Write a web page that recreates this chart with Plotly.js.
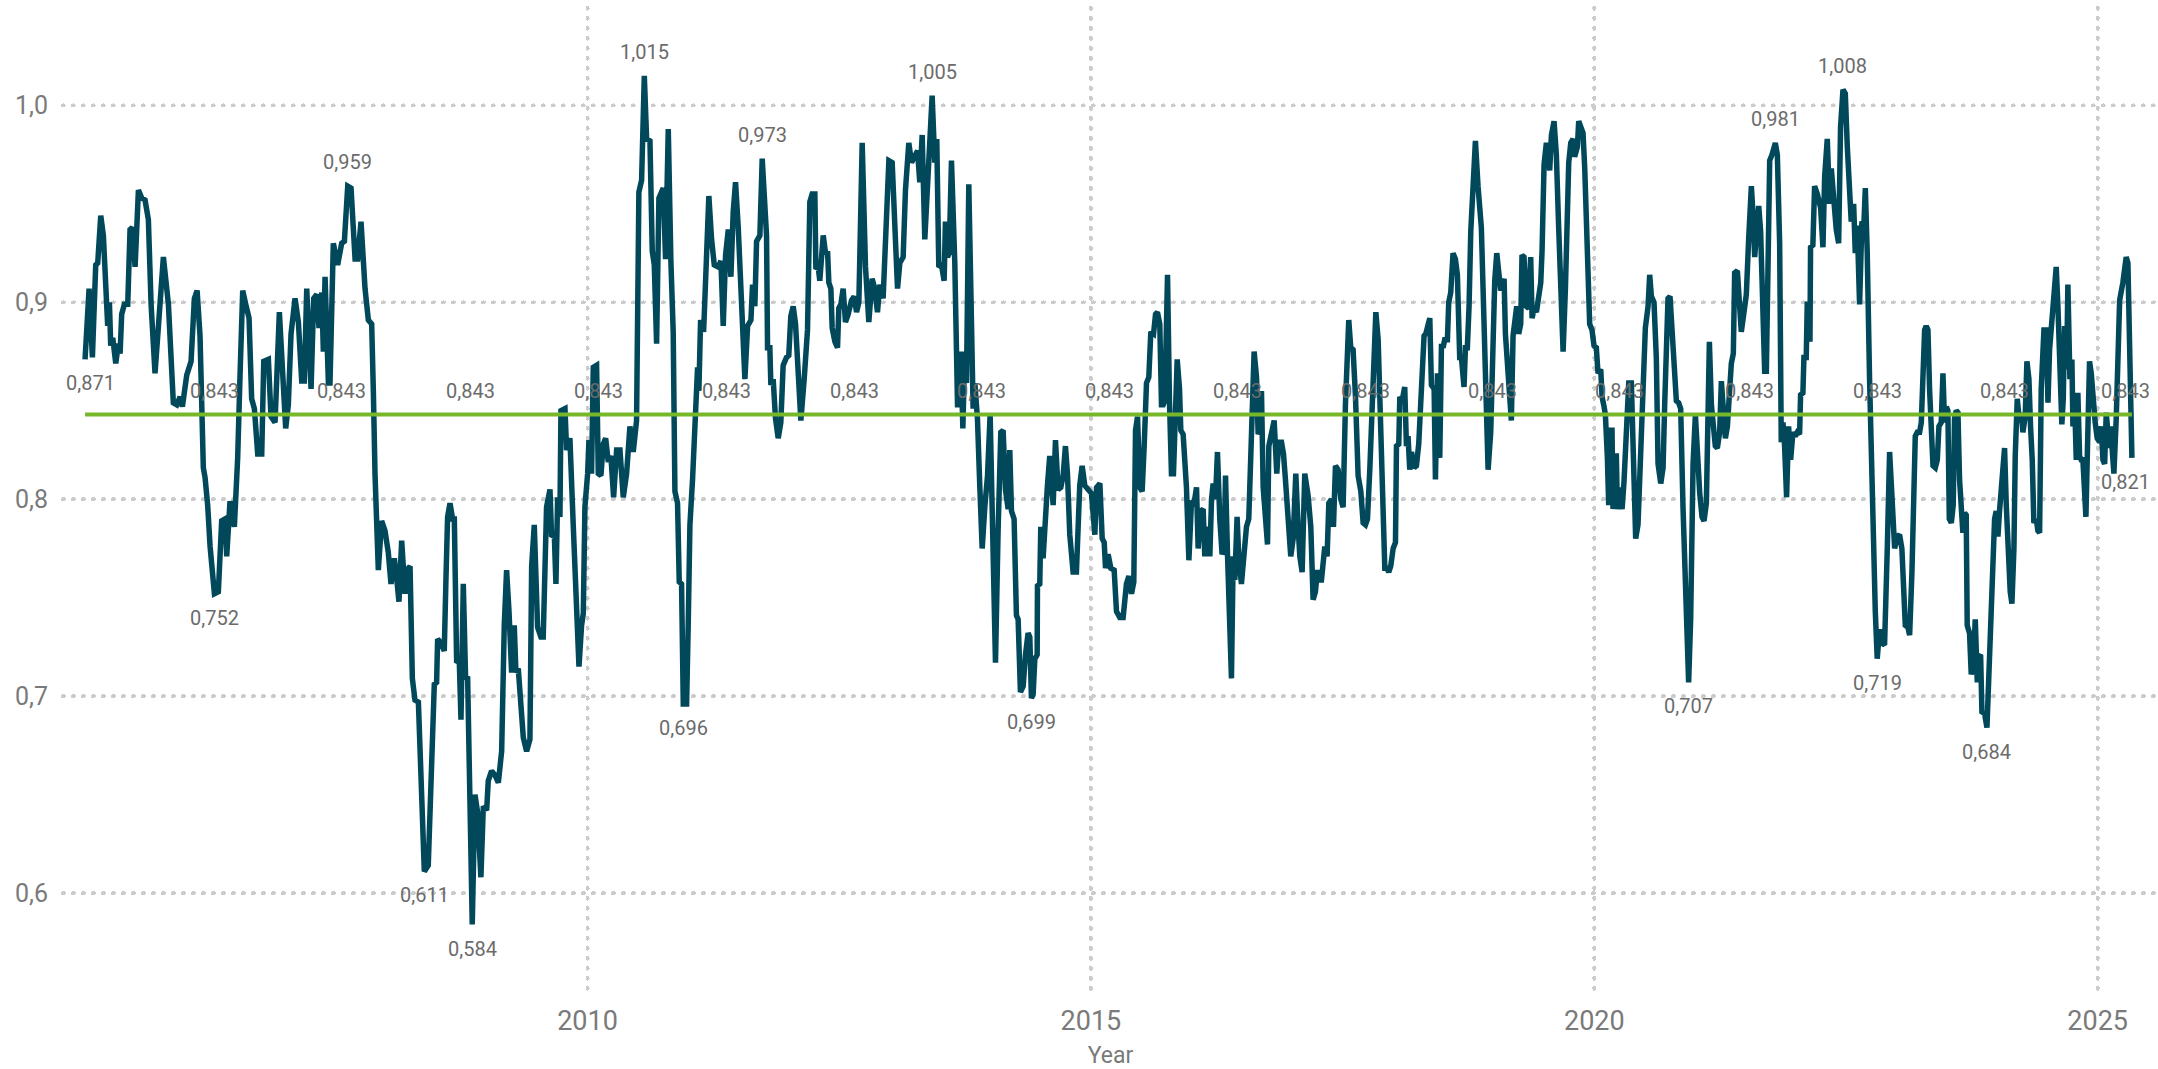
<!DOCTYPE html>
<html>
<head>
<meta charset="utf-8">
<script src="https://cdn.plot.ly/plotly-3.0.1.min.js"></script>
<style>
html,body{margin:0;padding:0;background:#ffffff;}
#chart{width:2158px;height:1069px;}
.gridlayer path{stroke-linecap:round !important;}
</style>
</head>
<body>
<div id="chart"></div>
<script>
// [decimal year, value]
const seg2005 = [[2005.009,0.871],[2005.049,0.907],[2005.082,0.872],[2005.115,0.919],[2005.135,0.920],[2005.165,0.944],[2005.191,0.934],[2005.224,0.907],[2005.234,0.888],[2005.251,0.900],[2005.264,0.878],[2005.284,0.882],[2005.314,0.869],[2005.340,0.879],[2005.357,0.874],[2005.373,0.894],[2005.400,0.899],[2005.433,0.899],[2005.456,0.937],[2005.479,0.938],[2005.506,0.918],[2005.539,0.957],[2005.572,0.953],[2005.605,0.952],[2005.638,0.942],[2005.665,0.899],[2005.704,0.864],[2005.738,0.888],[2005.787,0.923],[2005.837,0.899],[2005.863,0.875],[2005.886,0.849],[2005.920,0.848],[2005.953,0.852],[2005.976,0.847],[2006.019,0.863],[2006.062,0.870],[2006.095,0.902],[2006.122,0.906],[2006.151,0.883],[2006.184,0.816],[2006.201,0.811],[2006.227,0.797],[2006.251,0.776],[2006.294,0.752],[2006.333,0.753],[2006.366,0.789],[2006.400,0.790],[2006.416,0.771],[2006.449,0.799],[2006.492,0.786],[2006.525,0.821],[2006.549,0.864],[2006.575,0.906],[2006.605,0.899],[2006.638,0.892],[2006.664,0.851],[2006.691,0.846],[2006.724,0.823],[2006.764,0.823],[2006.784,0.870],[2006.830,0.871],[2006.856,0.842],[2006.896,0.839],[2006.939,0.895],[2006.969,0.870],[2007.002,0.836],[2007.028,0.848],[2007.055,0.884],[2007.095,0.902],[2007.128,0.890],[2007.161,0.860],[2007.187,0.860],[2007.211,0.907],[2007.254,0.856],[2007.280,0.902],[2007.310,0.904],[2007.333,0.887],[2007.360,0.905],[2007.376,0.875],[2007.393,0.913],[2007.426,0.859],[2007.442,0.859],[2007.475,0.930],[2007.518,0.919],[2007.558,0.930],[2007.585,0.931],[2007.618,0.959],[2007.651,0.958],[2007.691,0.922],[2007.717,0.922],[2007.750,0.941],[2007.790,0.907],[2007.823,0.891],[2007.856,0.889],[2007.873,0.854],[2007.889,0.813],[2007.922,0.764],[2007.955,0.789],[2007.988,0.784],[2008.021,0.773],[2008.048,0.757],[2008.081,0.770],[2008.104,0.760],[2008.127,0.748],[2008.154,0.779],[2008.187,0.752],[2008.220,0.765],[2008.237,0.766],[2008.260,0.709],[2008.286,0.698],[2008.320,0.697]];

const seg2008 = [[2008.379,0.611],[2008.418,0.614],[2008.451,0.662],[2008.478,0.706],[2008.501,0.707],[2008.511,0.729],[2008.544,0.727],[2008.577,0.723],[2008.594,0.760],[2008.610,0.791],[2008.634,0.798],[2008.660,0.790],[2008.677,0.790],[2008.700,0.717],[2008.726,0.718],[2008.743,0.688],[2008.766,0.757],[2008.789,0.709],[2008.809,0.710],[2008.832,0.638],[2008.855,0.584],[2008.882,0.650],[2008.908,0.641],[2008.941,0.608],[2008.965,0.644],[2008.998,0.642],[2009.014,0.657],[2009.047,0.662],[2009.080,0.660],[2009.114,0.656],[2009.147,0.672],[2009.173,0.736],[2009.196,0.764],[2009.220,0.743],[2009.246,0.712],[2009.272,0.736],[2009.289,0.712],[2009.312,0.714],[2009.339,0.697],[2009.362,0.679],[2009.395,0.672],[2009.428,0.678],[2009.445,0.766],[2009.471,0.787],[2009.504,0.735],[2009.537,0.730],[2009.560,0.730],[2009.593,0.796],[2009.627,0.805],[2009.643,0.781],[2009.670,0.782],[2009.686,0.757],[2009.703,0.801],[2009.726,0.791],[2009.736,0.845],[2009.776,0.846],[2009.792,0.825],[2009.825,0.831],[2009.858,0.787],[2009.891,0.748],[2009.915,0.715],[2009.941,0.736],[2009.958,0.742],[2009.974,0.796],[2010.001,0.813],[2010.014,0.830],[2010.040,0.813],[2010.057,0.867],[2010.090,0.868],[2010.107,0.813],[2010.133,0.812],[2010.156,0.828],[2010.180,0.831],[2010.206,0.819],[2010.232,0.822],[2010.259,0.801],[2010.289,0.825],[2010.322,0.825],[2010.355,0.801],[2010.388,0.813],[2010.421,0.837],[2010.454,0.824],[2010.487,0.840],[2010.510,0.956],[2010.537,0.962],[2010.564,1.015],[2010.587,0.983],[2010.620,0.982],[2010.643,0.926],[2010.663,0.919],[2010.686,0.879],[2010.709,0.953],[2010.736,0.956],[2010.752,0.958],[2010.775,0.922],[2010.802,0.988],[2010.828,0.921],[2010.851,0.885],[2010.868,0.804],[2010.894,0.798],[2010.911,0.758],[2010.934,0.757],[2010.951,0.696],[2010.984,0.696],[2011.000,0.736],[2011.017,0.787],[2011.043,0.810],[2011.066,0.843],[2011.093,0.867],[2011.106,0.855],[2011.123,0.891],[2011.153,0.885],[2011.173,0.921],[2011.205,0.954],[2011.232,0.932],[2011.259,0.919],[2011.298,0.918],[2011.325,0.921],[2011.348,0.888],[2011.371,0.924],[2011.398,0.937],[2011.424,0.913],[2011.447,0.946],[2011.470,0.961],[2011.497,0.938],[2011.530,0.897],[2011.563,0.861],[2011.590,0.888],[2011.623,0.891],[2011.639,0.909],[2011.662,0.898],[2011.679,0.931],[2011.712,0.934],[2011.735,0.973]];

const seg2011 = [[2011.778,0.934],[2011.788,0.877],[2011.811,0.877],[2011.821,0.858],[2011.844,0.861],[2011.867,0.841],[2011.894,0.831],[2011.920,0.839],[2011.943,0.868],[2011.976,0.872],[2011.999,0.873],[2012.019,0.893],[2012.043,0.898],[2012.066,0.889],[2012.092,0.861],[2012.119,0.840],[2012.152,0.861],[2012.185,0.886],[2012.208,0.951],[2012.231,0.955],[2012.258,0.955],[2012.268,0.917],[2012.291,0.918],[2012.307,0.911],[2012.341,0.934],[2012.364,0.925],[2012.384,0.926],[2012.397,0.910],[2012.417,0.907],[2012.430,0.887],[2012.457,0.880],[2012.483,0.877],[2012.496,0.897],[2012.516,0.899],[2012.539,0.907],[2012.562,0.890],[2012.589,0.894],[2012.622,0.901],[2012.648,0.903],[2012.672,0.895],[2012.695,0.900],[2012.728,0.981],[2012.761,0.918],[2012.794,0.890],[2012.827,0.912],[2012.853,0.907],[2012.880,0.895],[2012.903,0.909],[2012.936,0.902],[2012.969,0.938],[2012.993,0.972],[2013.026,0.971],[2013.052,0.943],[2013.079,0.907],[2013.102,0.920],[2013.135,0.923],[2013.158,0.957],[2013.191,0.981],[2013.218,0.971],[2013.244,0.974],[2013.278,0.977],[2013.300,0.961],[2013.324,0.985],[2013.350,0.932],[2013.377,0.959],[2013.400,0.979],[2013.423,1.005],[2013.449,0.971],[2013.469,0.983],[2013.489,0.918],[2013.516,0.919],[2013.542,0.911],[2013.555,0.941],[2013.575,0.923],[2013.592,0.925],[2013.615,0.972],[2013.648,0.920],[2013.675,0.848],[2013.695,0.848],[2013.708,0.875],[2013.728,0.836],[2013.747,0.875],[2013.764,0.859],[2013.787,0.960],[2013.814,0.859],[2013.830,0.846],[2013.847,0.859],[2013.873,0.841],[2013.896,0.807],[2013.920,0.775],[2013.946,0.796],[2013.973,0.812],[2013.999,0.843],[2014.022,0.778],[2014.052,0.717],[2014.078,0.784],[2014.105,0.834],[2014.128,0.835],[2014.151,0.805],[2014.178,0.795],[2014.194,0.825],[2014.211,0.794],[2014.237,0.790],[2014.260,0.741],[2014.277,0.739],[2014.300,0.702],[2014.327,0.705],[2014.350,0.721],[2014.376,0.732],[2014.393,0.730],[2014.409,0.699],[2014.426,0.701],[2014.443,0.719],[2014.466,0.721],[2014.469,0.756],[2014.492,0.757],[2014.502,0.786],[2014.525,0.770],[2014.542,0.787],[2014.568,0.807],[2014.591,0.822],[2014.608,0.807],[2014.625,0.797],[2014.648,0.830],[2014.674,0.805],[2014.701,0.806],[2014.724,0.812],[2014.747,0.827],[2014.767,0.813],[2014.790,0.782],[2014.823,0.763],[2014.856,0.763],[2014.889,0.807],[2014.913,0.817],[2014.939,0.807],[2014.972,0.805],[2015.005,0.803]];

const seg2015 = [[2015.039,0.782],[2015.056,0.806],[2015.089,0.808],[2015.112,0.780],[2015.132,0.778],[2015.145,0.765],[2015.171,0.772],[2015.198,0.765],[2015.231,0.764],[2015.254,0.743],[2015.287,0.740],[2015.320,0.740],[2015.353,0.757],[2015.377,0.761],[2015.403,0.752],[2015.426,0.758],[2015.443,0.835],[2015.463,0.842],[2015.486,0.806],[2015.509,0.804],[2015.529,0.827],[2015.552,0.859],[2015.575,0.862],[2015.595,0.885],[2015.622,0.884],[2015.642,0.894],[2015.661,0.895],[2015.684,0.889],[2015.701,0.848],[2015.718,0.848],[2015.734,0.850],[2015.761,0.914],[2015.780,0.850],[2015.800,0.813],[2015.820,0.813],[2015.833,0.842],[2015.857,0.871],[2015.880,0.856],[2015.893,0.835],[2015.916,0.833],[2015.933,0.823],[2015.949,0.806],[2015.973,0.769],[2015.999,0.799],[2016.025,0.798],[2016.049,0.806],[2016.065,0.775],[2016.092,0.794],[2016.115,0.795],[2016.131,0.771],[2016.158,0.786],[2016.181,0.771],[2016.198,0.800],[2016.214,0.808],[2016.237,0.800],[2016.257,0.824],[2016.280,0.790],[2016.303,0.772],[2016.323,0.775],[2016.337,0.812],[2016.356,0.773],[2016.380,0.744],[2016.396,0.709],[2016.413,0.771],[2016.429,0.759],[2016.452,0.791],[2016.469,0.770],[2016.495,0.757],[2016.522,0.771],[2016.545,0.786],[2016.568,0.790],[2016.595,0.848],[2016.621,0.875],[2016.645,0.862],[2016.661,0.833],[2016.677,0.835],[2016.694,0.855],[2016.711,0.806],[2016.734,0.794],[2016.754,0.777],[2016.767,0.827],[2016.793,0.833],[2016.820,0.840],[2016.846,0.813],[2016.866,0.829],[2016.893,0.829],[2016.913,0.823],[2016.932,0.810],[2016.959,0.786],[2016.985,0.771],[2017.009,0.780],[2017.035,0.813],[2017.058,0.786],[2017.075,0.771],[2017.098,0.763],[2017.124,0.813],[2017.157,0.802],[2017.184,0.786],[2017.207,0.749],[2017.230,0.753],[2017.250,0.764],[2017.273,0.759],[2017.290,0.759],[2017.306,0.773],[2017.323,0.776],[2017.346,0.771],[2017.363,0.798],[2017.389,0.800],[2017.409,0.786],[2017.429,0.817],[2017.455,0.815],[2017.482,0.800],[2017.505,0.796],[2017.528,0.848],[2017.548,0.883],[2017.561,0.891],[2017.581,0.877],[2017.604,0.876],[2017.628,0.852],[2017.654,0.812],[2017.681,0.804],[2017.704,0.788],[2017.727,0.787],[2017.747,0.790],[2017.770,0.815],[2017.793,0.852],[2017.813,0.885],[2017.830,0.895],[2017.853,0.881],[2017.876,0.831],[2017.902,0.804],[2017.919,0.765],[2017.942,0.765],[2017.958,0.763],[2017.978,0.766],[2018.002,0.775],[2018.025,0.778],[2018.035,0.827],[2018.058,0.828],[2018.068,0.852],[2018.091,0.850],[2018.117,0.857],[2018.134,0.827],[2018.150,0.832],[2018.167,0.815],[2018.184,0.824],[2018.210,0.816],[2018.233,0.817],[2018.256,0.828],[2018.283,0.852],[2018.309,0.883],[2018.326,0.884],[2018.349,0.891],[2018.366,0.892],[2018.382,0.858],[2018.409,0.856]];

const seg2018 = [[2018.422,0.810],[2018.442,0.864],[2018.465,0.821],[2018.482,0.879],[2018.498,0.877],[2018.514,0.881],[2018.541,0.881],[2018.554,0.900],[2018.574,0.905],[2018.597,0.925],[2018.620,0.922],[2018.640,0.914],[2018.663,0.872],[2018.680,0.872],[2018.706,0.857],[2018.720,0.877],[2018.739,0.877],[2018.756,0.898],[2018.773,0.936],[2018.796,0.957],[2018.819,0.982],[2018.845,0.959],[2018.878,0.938],[2018.905,0.889],[2018.928,0.839],[2018.945,0.815],[2018.971,0.834],[2018.994,0.880],[2019.011,0.911],[2019.031,0.925],[2019.054,0.910],[2019.070,0.906],[2019.087,0.909],[2019.104,0.912],[2019.117,0.884],[2019.137,0.868],[2019.160,0.854],[2019.176,0.840],[2019.193,0.883],[2019.210,0.892],[2019.229,0.898],[2019.249,0.884],[2019.269,0.889],[2019.282,0.924],[2019.302,0.923],[2019.325,0.898],[2019.349,0.897],[2019.368,0.923],[2019.382,0.892],[2019.402,0.897],[2019.425,0.895],[2019.448,0.903],[2019.468,0.910],[2019.481,0.926],[2019.501,0.970],[2019.524,0.981],[2019.540,0.977],[2019.557,0.967],[2019.574,0.985],[2019.600,0.992],[2019.623,0.975],[2019.646,0.938],[2019.667,0.907],[2019.690,0.875],[2019.713,0.907],[2019.732,0.943],[2019.746,0.971],[2019.766,0.981],[2019.789,0.983],[2019.805,0.974],[2019.832,0.979],[2019.845,0.992],[2019.872,0.989],[2019.888,0.986],[2019.905,0.968],[2019.921,0.936],[2019.938,0.911],[2019.954,0.889],[2019.977,0.886],[2019.997,0.878],[2020.020,0.877],[2020.037,0.864],[2020.064,0.866],[2020.077,0.852],[2020.097,0.847],[2020.110,0.843],[2020.130,0.821],[2020.143,0.797],[2020.156,0.835],[2020.176,0.835],[2020.186,0.795],[2020.203,0.822],[2020.219,0.822],[2020.229,0.795],[2020.252,0.806],[2020.276,0.795],[2020.295,0.809],[2020.318,0.841],[2020.342,0.859],[2020.368,0.859],[2020.385,0.816],[2020.411,0.780],[2020.434,0.787],[2020.451,0.813],[2020.467,0.846],[2020.487,0.875],[2020.507,0.887],[2020.534,0.898],[2020.550,0.914],[2020.567,0.903],[2020.593,0.900],[2020.616,0.872],[2020.633,0.818],[2020.660,0.808],[2020.683,0.816],[2020.699,0.848],[2020.716,0.886],[2020.732,0.902],[2020.752,0.903],[2020.772,0.884],[2020.792,0.866],[2020.815,0.850],[2020.838,0.849],[2020.858,0.846],[2020.881,0.796],[2020.904,0.751],[2020.924,0.719],[2020.937,0.707],[2020.957,0.739],[2020.981,0.818],[2021.004,0.843],[2021.023,0.821],[2021.047,0.803],[2021.070,0.791],[2021.090,0.789],[2021.113,0.798],[2021.130,0.843],[2021.143,0.880],[2021.163,0.848],[2021.179,0.837],[2021.202,0.827],[2021.222,0.826],[2021.245,0.834],[2021.262,0.860],[2021.282,0.841],[2021.302,0.831],[2021.322,0.837],[2021.345,0.861],[2021.361,0.869],[2021.381,0.874],[2021.394,0.915],[2021.421,0.916],[2021.444,0.891],[2021.460,0.885],[2021.487,0.895],[2021.510,0.904],[2021.533,0.932],[2021.560,0.959],[2021.576,0.945],[2021.593,0.923],[2021.609,0.934],[2021.633,0.949],[2021.652,0.936],[2021.675,0.902],[2021.692,0.865],[2021.709,0.865],[2021.725,0.902],[2021.742,0.972],[2021.765,0.975],[2021.785,0.979],[2021.798,0.981],[2021.818,0.975]];

const seg2021 = [[2021.841,0.930],[2021.857,0.829],[2021.874,0.839],[2021.890,0.827],[2021.910,0.801],[2021.930,0.837],[2021.950,0.820],[2021.973,0.834],[2021.996,0.832],[2022.016,0.834],[2022.039,0.833],[2022.049,0.853],[2022.072,0.854],[2022.082,0.872],[2022.105,0.872],[2022.115,0.899],[2022.132,0.899],[2022.142,0.880],[2022.148,0.928],[2022.171,0.929],[2022.188,0.959],[2022.215,0.955],[2022.248,0.948],[2022.271,0.928],[2022.288,0.964],[2022.314,0.983],[2022.337,0.950],[2022.354,0.968],[2022.380,0.950],[2022.403,0.937],[2022.427,0.930],[2022.446,0.989],[2022.470,1.008],[2022.493,1.006],[2022.513,0.979],[2022.536,0.952],[2022.552,0.941],[2022.576,0.950],[2022.592,0.925],[2022.612,0.939],[2022.635,0.899],[2022.658,0.941],[2022.678,0.940],[2022.692,0.958],[2022.711,0.925],[2022.734,0.861],[2022.751,0.822],[2022.767,0.788],[2022.791,0.743],[2022.810,0.719],[2022.834,0.734],[2022.857,0.727],[2022.883,0.726],[2022.910,0.775],[2022.933,0.824],[2022.956,0.802],[2022.983,0.775],[2023.009,0.781],[2023.032,0.782],[2023.055,0.775],[2023.075,0.758],[2023.089,0.736],[2023.115,0.735],[2023.132,0.731],[2023.155,0.763],[2023.175,0.800],[2023.188,0.832],[2023.208,0.834],[2023.231,0.834],[2023.248,0.839],[2023.264,0.861],[2023.281,0.886],[2023.297,0.888],[2023.314,0.886],[2023.330,0.856],[2023.347,0.832],[2023.364,0.817],[2023.387,0.816],[2023.407,0.820],[2023.423,0.837],[2023.446,0.839],[2023.463,0.864],[2023.479,0.839],[2023.496,0.847],[2023.512,0.845],[2023.526,0.790],[2023.546,0.788],[2023.565,0.797],[2023.578,0.841],[2023.595,0.845],[2023.612,0.844],[2023.628,0.810],[2023.645,0.797],[2023.661,0.783],[2023.678,0.793],[2023.694,0.792],[2023.704,0.736],[2023.727,0.732],[2023.744,0.711],[2023.764,0.716],[2023.784,0.739],[2023.804,0.707],[2023.817,0.720],[2023.837,0.721],[2023.850,0.692],[2023.877,0.691],[2023.900,0.684],[2023.920,0.714],[2023.936,0.743],[2023.959,0.783],[2023.976,0.790],[2023.992,0.794],[2024.009,0.781],[2024.025,0.794],[2024.049,0.811],[2024.075,0.826],[2024.092,0.797],[2024.108,0.773],[2024.131,0.753],[2024.148,0.747],[2024.168,0.775],[2024.181,0.822],[2024.201,0.851],[2024.224,0.839],[2024.241,0.844],[2024.257,0.834],[2024.280,0.842],[2024.297,0.870],[2024.317,0.861],[2024.333,0.837],[2024.350,0.820],[2024.366,0.788],[2024.390,0.790],[2024.406,0.784],[2024.423,0.783],[2024.439,0.856],[2024.466,0.886],[2024.489,0.886],[2024.506,0.849],[2024.522,0.876],[2024.545,0.891],[2024.565,0.896],[2024.588,0.918],[2024.605,0.898],[2024.625,0.861],[2024.644,0.838],[2024.658,0.851],[2024.671,0.888],[2024.691,0.866],[2024.704,0.909],[2024.724,0.861],[2024.744,0.871],[2024.754,0.837],[2024.770,0.852],[2024.787,0.820],[2024.803,0.854],[2024.820,0.822],[2024.836,0.820],[2024.853,0.820],[2024.870,0.805],[2024.883,0.791],[2024.903,0.836],[2024.919,0.870],[2024.936,0.864],[2024.952,0.851],[2024.975,0.839],[2024.995,0.831],[2025.019,0.829],[2025.035,0.837],[2025.052,0.820],[2025.069,0.818],[2025.085,0.844],[2025.101,0.834],[2025.118,0.826],[2025.128,0.837],[2025.141,0.829],[2025.161,0.813],[2025.184,0.841],[2025.201,0.881],[2025.218,0.901],[2025.250,0.910],[2025.267,0.918],[2025.283,0.923],[2025.300,0.920],[2025.317,0.886],[2025.340,0.821]];

const meanValue = 0.843;
const meanLabelYears = [2006.29, 2007.56, 2008.84, 2010.11, 2011.38, 2012.65, 2013.91, 2015.18, 2016.46, 2017.73, 2018.99, 2020.25, 2021.54, 2022.81, 2024.07, 2025.28];
const extremeLabelYears = [2005.009, 2006.294, 2007.618, 2008.379, 2008.855, 2010.564, 2010.951, 2011.735, 2013.423, 2014.409, 2020.937, 2021.798, 2022.470, 2022.810, 2023.900, 2025.340];
const extremeLabelSides = ['below','below','above','below','below','above','below','above','above','below','below','above','above','below','below','below'];
const xTickYears = [2010, 2015, 2020, 2025];
const yTickValues = [0.6, 0.7, 0.8, 0.9, 1.0];
const xTitle = 'Year';

const series = [].concat(seg2005, seg2008, seg2011, seg2015, seg2018, seg2021);
const xs = series.map(p => p[0]);
const ys = series.map(p => p[1]);
const fmt = v => v.toFixed(3).replace('.', ',');

const labelFont = {family: 'Roboto, sans-serif', size: 20, color: '#6b6b6b'};
const annotations = [];
extremeLabelYears.forEach((yr, i) => {
  let best = 0;
  xs.forEach((x, j) => { if (Math.abs(x - yr) < Math.abs(xs[best] - yr)) best = j; });
  annotations.push({
    x: xs[best], y: ys[best], xref: 'x', yref: 'y', text: fmt(ys[best]),
    showarrow: false, font: labelFont, xanchor: 'center', yanchor: 'middle',
    yshift: extremeLabelSides[i] === 'above' ? 24 : -24,
    xshift: i === 0 ? 5 : (i === extremeLabelYears.length - 1 ? -6 : 0)
  });
});
meanLabelYears.forEach(yr => {
  annotations.push({
    x: yr, y: meanValue, xref: 'x', yref: 'y', text: fmt(meanValue),
    showarrow: false, font: labelFont, xanchor: 'center', yanchor: 'middle', yshift: 24
  });
});

const traces = [
  {x: xs, y: ys, type: 'scatter', mode: 'lines', line: {color: '#01485b', width: 5.5}, hoverinfo: 'skip'},
  {x: [xs[0], xs[xs.length - 1]], y: [meanValue, meanValue], type: 'scatter', mode: 'lines',
   line: {color: '#76b82a', width: 4}, hoverinfo: 'skip'}
];

const gridStyle = {gridcolor: '#cccccc', gridwidth: 4, griddash: '0.8px,9.2px'};
const layout = {
  width: 2158, height: 1069,
  margin: {l: 63, r: 0, t: 8, b: 73},
  paper_bgcolor: '#ffffff', plot_bgcolor: '#ffffff',
  showlegend: false,
  separators: ',.',
  font: {family: 'Roboto, sans-serif', color: '#7a7a7a'},
  xaxis: Object.assign({
    type: 'linear', range: [2004.790, 2025.599],
    tickmode: 'array', tickvals: xTickYears, ticktext: xTickYears.map(String),
    showgrid: true, zeroline: false, showline: false, ticks: '',
    tickfont: {size: 27, color: '#7a7a7a'},
    ticklabelstandoff: 6,
    title: {text: xTitle, font: {size: 23, color: '#7a7a7a'}, standoff: 14}
  }, gridStyle),
  yaxis: Object.assign({
    range: [0.5477, 1.0495],
    tickmode: 'array', tickvals: yTickValues, tickformat: '.1f',
    showgrid: true, zeroline: false, showline: false, ticks: '',
    tickfont: {size: 25, color: '#7a7a7a'},
    ticklabelstandoff: 14
  }, gridStyle),
  annotations: annotations,
  hovermode: false
};

Plotly.newPlot('chart', traces, layout, {displayModeBar: false, staticPlot: true});
</script>
</body>
</html>
